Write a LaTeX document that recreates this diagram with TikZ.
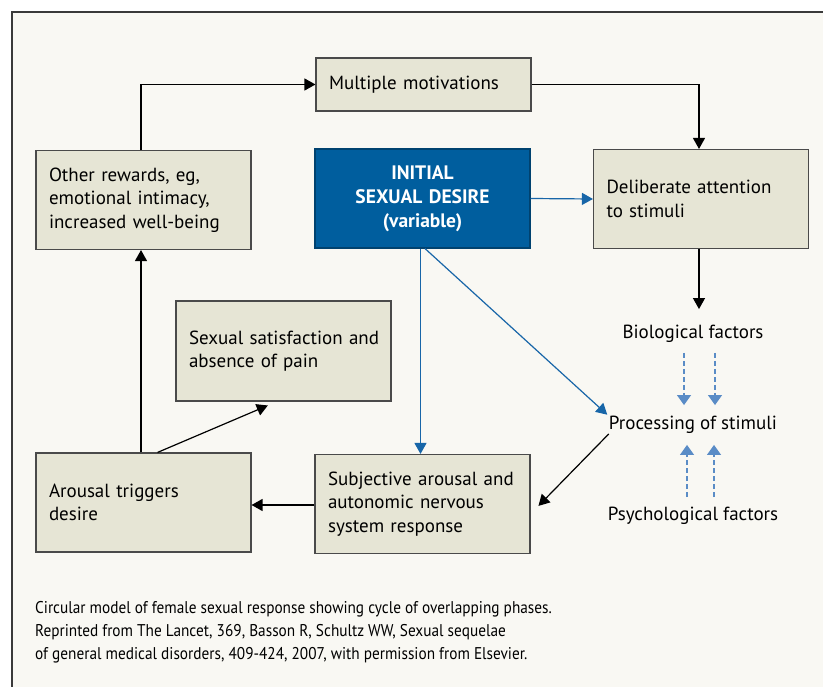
\documentclass[tikz,border=0pt]{standalone}
\usepackage{fontspec}
\setmainfont{PT Sans}
\newfontfamily\capfont[FakeStretch=0.9]{PT Sans}
\usetikzlibrary{arrows.meta}
\definecolor{bgc}{HTML}{F9F8F3}
\definecolor{framec}{HTML}{3A3A3A}
\definecolor{boxfill}{HTML}{E6E5D5}
\definecolor{boxline}{HTML}{4A4A4A}
\definecolor{initblue}{HTML}{005E9E}
\definecolor{arrblue}{HTML}{1866A8}
\definecolor{lightblue}{HTML}{5A8CC6}
\tikzset{
  box/.style={draw=boxline, fill=boxfill, line width=1.1pt, rectangle,
    minimum height=99pt, text width=189pt, inner xsep=13pt, inner ysep=0pt,
    align=left, font=\fontsize{19}{23.5}\selectfont},
  initbox/.style={box, fill=initblue, draw=initblue!70!black, text=white,
    align=center, font=\fontsize{19.5}{24}\selectfont\bfseries},
  lbl/.style={inner sep=0pt, font=\fontsize{19}{22}\selectfont},
  blk/.style={draw=black, line width=1.2pt, -{Triangle[width=12pt,length=11pt]}},
  blu/.style={draw=arrblue, line width=1.2pt, -{Triangle[width=12pt,length=11pt]}, arrblue},
  dsh/.style={draw=lightblue, line width=1.1pt, dash pattern=on 5pt off 3pt,
    -{Triangle[width=14pt,length=10pt]}, lightblue},
}
\begin{document}
\begin{tikzpicture}[x=1pt,y=-1pt]
\useasboundingbox (0,0) rectangle (823,687);
\fill[white] (0,0) rectangle (823,687);
\fill[bgc] (12,12) rectangle (823,687);
\draw[framec, line width=1.5pt] (12,687) -- (12,12) -- (823,12);

\node[box, minimum height=53pt] (mm) at (423.5,84.5) {Multiple motivations};
\node[box] (other) at (143.5,200) {Other rewards, eg,\\emotional intimacy,\\increased well-being};
\node[initbox] (init) at (422.5,198.5) {INITIAL\\SEXUAL DESIRE\\(variable)};
\node[box] (delib) at (701,199) {Deliberate attention\\to stimuli};
\node[box, minimum height=100pt] (sat) at (283.5,351) {\mbox{Sexual satisfaction and}\\absence of pain};
\node[box] (arousal) at (143.5,502.5) {Arousal triggers\\desire};
\node[box] (subj) at (422.5,504) {\mbox{Subjective arousal and}\\autonomic nervous\\system response};

\node[lbl] (bio) at (693,334) {Biological factors};
\node[lbl] (proc) at (693,425) {Processing of stimuli};
\node[lbl] (psych) at (693,516) {Psychological factors};

% cycle connectors
\draw[blk] ([xshift=-2.5]other.north) |- (mm.west);
\draw[blk] (mm.east) -| ([xshift=-2]delib.north);
\draw[blk, shorten >=16pt] ([xshift=-2]delib.south) -- ([xshift=-2]delib.south |- bio.north);
\draw[blk, shorten >=11.3pt] (proc.south west) -- ([yshift=-10pt]subj.east);
\draw[blk] ([yshift=-1]subj.west) -- ([yshift=-1]subj.west -| arousal.east);
\draw[blk] ([xshift=-2.5]arousal.north) -- ([xshift=-2.5]other.south);
\draw[blk, shorten >=10pt] ([xshift=14]arousal.north) -- ([xshift=-6.5]sat.south);

% blue connectors
\draw[blu] (init.east) -- (delib.west);
\draw[blu] ([xshift=-2]init.south) -- ([xshift=-2]subj.north);
\draw[blu, shorten >=2pt] ([xshift=2.5]init.south) -- (proc.north west);

% dashed factor arrows
\draw[dsh, shorten <=10pt, shorten >=11pt] ([xshift=-9]bio.south) -- ([xshift=-9]proc.north);
\draw[dsh, shorten <=10pt, shorten >=11pt] ([xshift=22]bio.south) -- ([xshift=22]proc.north);
\draw[dsh, shorten <=10pt, shorten >=11pt] ([xshift=-6]psych.north) -- ([xshift=-6]proc.south);
\draw[dsh, shorten <=10pt, shorten >=11pt] ([xshift=21]psych.north) -- ([xshift=21]proc.south);

\node[inner sep=0pt, anchor=north west, align=left, font=\capfont\fontsize{17}{23}\selectfont] (cap) at (35,601)
  {Circular model of female sexual response showing cycle of overlapping phases.\\
   Reprinted from The Lancet, 369, Basson R, Schultz WW, Sexual sequelae\\
   of general medical disorders, 409-424, 2007, with permission from Elsevier.};
\end{tikzpicture}
\end{document}
